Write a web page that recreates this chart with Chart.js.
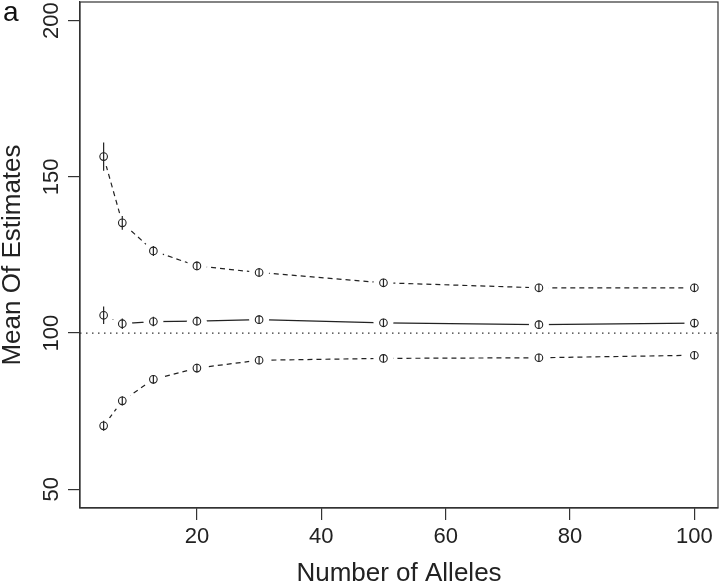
<!DOCTYPE html>
<html>
<head>
<meta charset="utf-8">
<script src="https://cdn.jsdelivr.net/npm/chart.js@4/dist/chart.umd.min.js"></script>
<style>
  html, body { margin: 0; padding: 0; background: #fff; }
  canvas { display: block; }
</style>
</head>
<body>
<canvas id="chart" width="720" height="587"></canvas>
<script>
// Datos
const alleles = [5, 8, 13, 20, 30, 50, 75, 100];
const upperMean = [156.5, 135.3, 126.3, 121.5, 119.4, 116.1, 114.5, 114.5];
const middleMean = [105.7, 103.0, 103.7, 103.8, 104.3, 103.3, 102.7, 103.2];
const lowerMean = [70.3, 78.3, 85.2, 88.8, 91.3, 91.9, 92.1, 92.9];
const upperErr = [4.5, 2.2, 1.6, 1.4, 1.4, 1.3, 1.3, 1.3];
const middleErr = [2.8, 1.7, 1.5, 1.4, 1.4, 1.3, 1.3, 1.3];
const lowerErr = [1.6, 1.5, 1.4, 1.4, 1.3, 1.3, 1.3, 1.3];
const xTicks = [20, 40, 60, 80, 100];
const yTicks = [50, 100, 150, 200];
const refValue = 100;

const FONT = '"Liberation Sans", Arial, Helvetica, sans-serif';
const INK = '#222';

const toPoints = (ys) => alleles.map((x, i) => ({ x: x, y: ys[i] }));

// Dataset de líneas (con huecos alrededor de los puntos, como type="b" en R)
const lineSet = (ys, dash) => ({
    data: toPoints(ys),
    borderColor: INK,
    borderWidth: 1.2,
    borderDash: dash,
    pointRadius: 0,
    tension: 0,
    fill: false,
    order: 2
});
const gapSet = (ys) => ({
    data: toPoints(ys),
    showLine: false,
    pointRadius: 10,
    pointBackgroundColor: '#fff',
    pointBorderWidth: 0,
    pointBorderColor: '#fff',
    order: 1
});
const circleSet = (ys) => ({
    data: toPoints(ys),
    showLine: false,
    pointRadius: 3.8,
    pointBackgroundColor: 'rgba(0,0,0,0)',
    pointBorderColor: INK,
    pointBorderWidth: 1.1,
    order: 0
});

// Caja, línea de referencia, barras de error y letra "a"
const extrasPlugin = {
    id: 'extras',
    afterDatasetsDraw(chart) {
        const { ctx, chartArea: a, scales: { x, y } } = chart;
        ctx.save();
        // línea punteada en 100
        const yRef = y.getPixelForValue(refValue);
        ctx.strokeStyle = '#333';
        ctx.lineWidth = 1.1;
        ctx.setLineDash([1.5, 4.5]);
        ctx.beginPath();
        ctx.moveTo(a.left, yRef);
        ctx.lineTo(a.right, yRef);
        ctx.stroke();
        ctx.setLineDash([]);
        // barras de error
        ctx.strokeStyle = INK;
        ctx.lineWidth = 1.2;
        [[upperMean, upperErr], [middleMean, middleErr], [lowerMean, lowerErr]].forEach(([m, e]) => {
            alleles.forEach((xv, i) => {
                const px = x.getPixelForValue(xv);
                ctx.beginPath();
                ctx.moveTo(px, y.getPixelForValue(m[i] + e[i]));
                ctx.lineTo(px, y.getPixelForValue(m[i] - e[i]));
                ctx.stroke();
            });
        });
        // caja
        ctx.strokeStyle = '#333';
        ctx.lineWidth = 1.2;
        ctx.strokeRect(a.left, a.top, a.right - a.left, a.bottom - a.top);
        // etiqueta del panel
        ctx.fillStyle = '#111';
        ctx.font = '28px ' + FONT;
        ctx.textBaseline = 'alphabetic';
        ctx.textAlign = 'left';
        ctx.fillText('a', 3, 21);
        ctx.restore();
    }
};

const ctx = document.getElementById('chart').getContext('2d');

const chart = new Chart(ctx, {
    type: 'line',
    data: {
        datasets: [
            circleSet(upperMean), circleSet(middleMean), circleSet(lowerMean),
            gapSet(upperMean), gapSet(middleMean), gapSet(lowerMean),
            lineSet(upperMean, [5, 4]), lineSet(middleMean, []), lineSet(lowerMean, [5, 4])
        ]
    },
    options: {
        responsive: false,
        animation: false,
        layout: { autoPadding: false, padding: { top: 2, right: 2, left: 0, bottom: 0 } },
        plugins: {
            legend: { display: false },
            tooltip: { enabled: false }
        },
        scales: {
            x: {
                type: 'linear',
                min: 1.2,
                max: 103.8,
                afterBuildTicks: (s) => { s.ticks = xTicks.map(v => ({ value: v })); },
                afterFit: (s) => {
                    s.height = 79;
                    s.paddingLeft = 0;
                    s.paddingRight = 0;
                },
                grid: { drawOnChartArea: false, drawTicks: true, tickLength: 12, color: '#333', lineWidth: 1.2 },
                border: { display: true, color: '#333', width: 1.2 },
                ticks: { color: INK, font: { family: FONT, size: 22 }, padding: 4, maxRotation: 0 },
                title: {
                    display: true,
                    text: 'Number of Alleles',
                    color: INK,
                    font: { family: FONT, size: 26, lineHeight: 1 },
                    padding: { top: 0, bottom: 0 }
                }
            },
            y: {
                type: 'linear',
                min: 44,
                max: 206,
                afterBuildTicks: (s) => { s.ticks = yTicks.map(v => ({ value: v })); },
                afterFit: (s) => {
                    s.width = 80;
                    s.paddingTop = 0;
                    s.paddingBottom = 0;
                },
                grid: { drawOnChartArea: false, drawTicks: true, tickLength: 12, color: '#333', lineWidth: 1.2 },
                border: { display: true, color: '#333', width: 1.2 },
                ticks: {
                    color: INK,
                    font: { family: FONT, size: 22 },
                    minRotation: 90,
                    maxRotation: 90,
                    crossAlign: 'center',
                    padding: -2
                },
                title: {
                    display: true,
                    text: 'Mean Of Estimates',
                    color: INK,
                    font: { family: FONT, size: 26, lineHeight: 1 },
                    padding: { top: 0, bottom: 0 }
                }
            }
        }
    },
    plugins: [extrasPlugin]
});
</script>
</body>
</html>
